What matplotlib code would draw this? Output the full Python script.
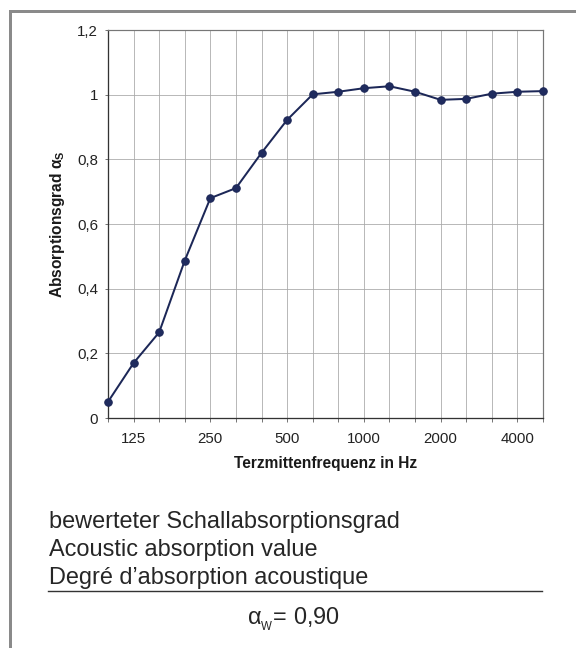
import matplotlib
matplotlib.use("Agg")
import matplotlib.pyplot as plt
from matplotlib.lines import Line2D

plt.rcParams['font.family'] = ['Liberation Sans', 'DejaVu Sans']
plt.rcParams['mathtext.fontset'] = 'custom'
plt.rcParams['mathtext.rm'] = 'Liberation Sans'
plt.rcParams['mathtext.bf'] = 'Liberation Sans:bold'

# Third-octave band centre frequencies (Hz) and measured absorption coefficients
frequencies = [100, 125, 160, 200, 250, 315, 400, 500, 630, 800,
               1000, 1250, 1600, 2000, 2500, 3150, 4000, 5000]
alpha_s = [0.05, 0.17, 0.265, 0.487, 0.68, 0.711, 0.82, 0.922, 1.001, 1.009,
           1.02, 1.026, 1.009, 0.984, 0.987, 1.003, 1.009, 1.011]
labelled_freqs = [125, 250, 500, 1000, 2000, 4000]
y_ticks = [0, 0.2, 0.4, 0.6, 0.8, 1.0, 1.2]
y_tick_labels = ["0", "0,2", "0,4", "0,6", "0,8", "1", "1,2"]
rating_lines = ["bewerteter Schallabsorptionsgrad",
                "Acoustic absorption value",
                "Degré d\u2019absorption acoustique"]
alpha_w = "0,90"

W, H = 576, 648
fig = plt.figure(figsize=(W / 72, H / 72), dpi=72)
fig.patch.set_facecolor("white")

# Outer frame (top and left edges visible)
frame_col = "#8a8a8a"
fig.add_artist(Line2D([10 / W, 1.0], [1 - 11 / H, 1 - 11 / H], color=frame_col, lw=3,
                      transform=fig.transFigure))
fig.add_artist(Line2D([10 / W, 10 / W], [0.0, 1 - 11 / H], color=frame_col, lw=3,
                      transform=fig.transFigure))

ax = fig.add_axes([108 / W, 1 - 418 / H, 435 / W, 388 / H])
x = list(range(len(frequencies)))
ax.plot(x, alpha_s, color="#1c2757", lw=2.0, marker="o", markersize=7.5,
        markerfacecolor="#1f2b5e", markeredgecolor="#1c2757", zorder=3, clip_on=False)

ax.set_xlim(0, len(frequencies) - 1)
ax.set_ylim(0, 1.2)
ax.set_xticks(x)
ax.set_xticklabels([str(f) if f in labelled_freqs else "" for f in frequencies])
ax.set_yticks(y_ticks)
ax.set_yticklabels(y_tick_labels)
ax.tick_params(axis="x", direction="out", length=4, width=0.8, colors="#555555",
               labelcolor="#222222", labelsize=15, pad=10)
ax.tick_params(axis="y", direction="out", length=3, width=0.8, colors="#555555",
               labelcolor="#222222", labelsize=15, pad=7)

ax.grid(True, color="#a8a8a8", lw=0.8)
ax.set_axisbelow(True)
for side in ("left", "bottom"):
    ax.spines[side].set_color("#333333")
    ax.spines[side].set_linewidth(1.3)
for side in ("top", "right"):
    ax.spines[side].set_color("#777777")
    ax.spines[side].set_linewidth(1.2)

ax.set_xlabel("Terzmittenfrequenz in Hz", fontsize=15.5, fontweight="bold",
              color="#1a1a1a", labelpad=10)
ax.set_ylabel(r"Absorptionsgrad $\mathbf{\alpha_S}$", fontsize=15.5, fontweight="bold",
              color="#1a1a1a", labelpad=10)

# Weighted absorption coefficient block
for i, line in enumerate(rating_lines):
    fig.text(49 / W, 1 - (522 + 28 * i) / H, line, fontsize=23.5, color="#262626",
             va="center", ha="left")
fig.add_artist(Line2D([48 / W, 542 / W], [1 - 591 / H, 1 - 591 / H], color="#333333",
                      lw=1.4, transform=fig.transFigure))
fig.text(293 / W, 1 - 619 / H, r"$\mathregular{\alpha_{_W}}$= " + alpha_w, fontsize=23.5,
         color="#262626", va="center", ha="center")

fig.savefig("out.png", dpi=72)
